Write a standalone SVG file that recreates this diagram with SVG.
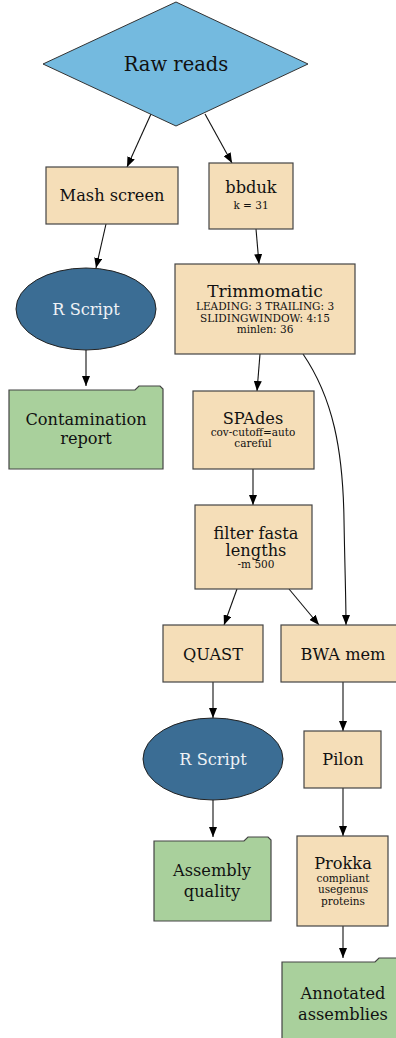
<svg xmlns="http://www.w3.org/2000/svg" width="396" height="1038" viewBox="0 0 396 1038">
<defs>
<marker id="ah" markerWidth="10" markerHeight="8" refX="10" refY="4" orient="auto" markerUnits="userSpaceOnUse">
<path d="M0,0 L10,4 L0,8 z" fill="#000"/>
</marker>
<style>
.box{fill:#f5deb8;stroke:#444;stroke-width:1.2}
.dia{fill:#74badf;stroke:#333;stroke-width:1}
.ell{fill:#3b6d94;stroke:#222;stroke-width:1}
.fold{fill:#a9d09c;stroke:#444;stroke-width:1.2}
text{font-family:"DejaVu Serif","Liberation Serif",serif;fill:#111;text-anchor:middle}
.big{font-size:19.5px}
.m{font-size:16.2px}
.s{font-size:10.5px}
.w{fill:#eef2f6}
.e{fill:none;stroke:#111;stroke-width:1.1;marker-end:url(#ah)}
</style>
</defs>
<g id="connectors">
<path class="e" d="M151,114 L127,167"/>
<path class="e" d="M205,114 L232,163"/>
<path class="e" d="M106,224 L96,268"/>
<path class="e" d="M256,229 L259,264"/>
<path class="e" d="M86,350 L86,386"/>
<path class="e" d="M260,354 L257,391"/>
<path class="e" d="M303,354 C333,398 343,450 344,520 C345,575 346,600 346,625"/>
<path class="e" d="M253,469 L253,505"/>
<path class="e" d="M237,589 L224,625"/>
<path class="e" d="M289,589 L319,625"/>
<path class="e" d="M213,682 L213,718"/>
<path class="e" d="M343,682 L343,731"/>
<path class="e" d="M213,800 L213,837"/>
<path class="e" d="M343,788 L343,836"/>
<path class="e" d="M343,926 L343,958"/>
</g>
<g id="raw_reads">
<polygon class="dia" points="176,2 308,64 176,126 43,64"/>
<text class="big" x="176" y="71">Raw reads</text>
</g>
<g id="mash_screen">
<rect class="box" x="46" y="167" width="132" height="57"/>
<text class="m" x="112" y="201">Mash screen</text>
</g>
<g id="bbduk">
<rect class="box" x="209" y="163" width="84" height="66"/>
<text class="m" x="251" y="193">bbduk</text>
<text class="s" x="251" y="209">k = 31</text>
</g>
<g id="rscript1">
<ellipse class="ell" cx="86" cy="309" rx="70" ry="41"/>
<text class="m w" x="86" y="315">R Script</text>
</g>
<g id="trimmomatic">
<rect class="box" x="175" y="264" width="180" height="90"/>
<text class="m" x="265" y="297" style="font-size:17px">Trimmomatic</text>
<text class="s" x="265" y="310">LEADING: 3 TRAILING: 3</text>
<text class="s" x="265" y="322">SLIDINGWINDOW: 4:15</text>
<text class="s" x="265" y="333">minlen: 36</text>
</g>
<g id="contamination_report">
<path class="fold" d="M9,469 L9,390 L135,390 L139,386 L160,386 L163,389 L163,469 Z"/>
<text class="m" x="86" y="425">Contamination</text>
<text class="m" x="86" y="444">report</text>
</g>
<g id="spades">
<rect class="box" x="193" y="391" width="121" height="78"/>
<text class="m" x="253" y="424">SPAdes</text>
<text class="s" x="253" y="436">cov-cutoff=auto</text>
<text class="s" x="253" y="447">careful</text>
</g>
<g id="filter_fasta">
<rect class="box" x="195" y="505" width="117" height="84"/>
<text class="m" x="256" y="539">filter fasta</text>
<text class="m" x="256" y="556">lengths</text>
<text class="s" x="256" y="568">-m 500</text>
</g>
<g id="quast">
<rect class="box" x="163" y="625" width="100" height="57"/>
<text class="m" x="213" y="660">QUAST</text>
</g>
<g id="bwa_mem">
<rect class="box" x="281" y="625" width="124" height="57"/>
<text class="m" x="343" y="660">BWA mem</text>
</g>
<g id="rscript2">
<ellipse class="ell" cx="213" cy="759" rx="70" ry="41"/>
<text class="m w" x="213" y="765">R Script</text>
</g>
<g id="pilon">
<rect class="box" x="304" y="731" width="77" height="57"/>
<text class="m" x="343" y="765">Pilon</text>
</g>
<g id="assembly_quality">
<path class="fold" d="M154,921 L154,841 L244,841 L248,837 L268,837 L271,840 L271,921 Z"/>
<text class="m" x="212" y="876">Assembly</text>
<text class="m" x="212" y="897">quality</text>
</g>
<g id="prokka">
<rect class="box" x="297" y="836" width="91" height="90"/>
<text class="m" x="343" y="869">Prokka</text>
<text class="s" x="343" y="882">compliant</text>
<text class="s" x="343" y="893">usegenus</text>
<text class="s" x="343" y="905">proteins</text>
</g>
<g id="annotated_assemblies">
<path class="fold" d="M282,1045 L282,962 L375,962 L379,958 L400,958 L404,962 L404,1045 Z"/>
<text class="m" x="343" y="999">Annotated</text>
<text class="m" x="343" y="1020">assemblies</text>
</g>
</svg>
